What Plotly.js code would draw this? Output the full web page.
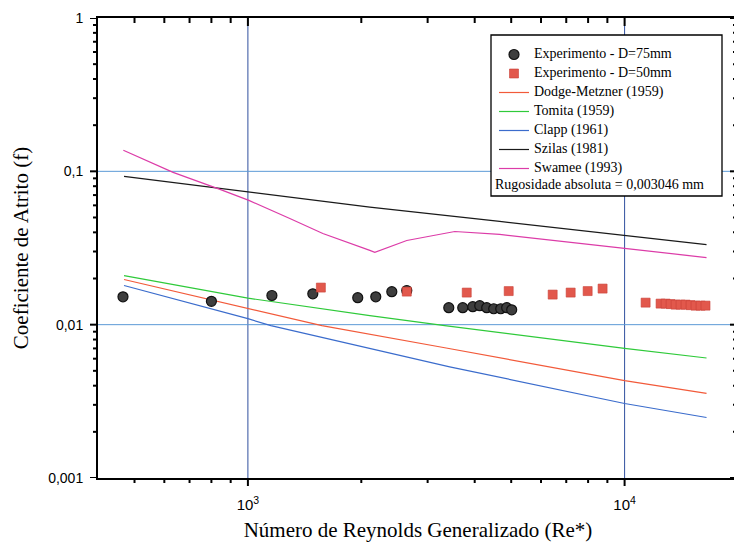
<!DOCTYPE html>
<html>
<head>
<meta charset="utf-8">
<script src="https://cdn.plot.ly/plotly-3.0.1.min.js"></script>
<style>
  html, body { margin: 0; padding: 0; background: #fff; overflow: hidden; width: 734px; height: 549px; }
  #chart { width: 742px; height: 549px; }
</style>
</head>
<body>
<div id="chart"></div>
<script>
// Experimental friction factors, pipe D = 75 mm
const re75 = [466, 800, 1158, 1487, 1957, 2185, 2410, 2641, 3414, 3718, 3953, 4125, 4305, 4493, 4690, 4864, 5015];
const f75  = [0.0152, 0.0142, 0.0155, 0.0159, 0.0150, 0.0152, 0.0164, 0.0167, 0.0129, 0.0129, 0.0131, 0.0133, 0.0129, 0.0127, 0.0127, 0.0129, 0.0125];

// Experimental friction factors, pipe D = 50 mm
const re50 = [1562, 2641, 3810, 4924, 6442, 7191, 7978, 8741, 11370, 12460, 12850, 13250, 13660, 14080, 14520, 14970, 15430, 15910, 16400];
const f50  = [0.01745, 0.01643, 0.01619, 0.01656, 0.01571, 0.01619, 0.01656, 0.01719, 0.01392, 0.01372, 0.01372, 0.01362, 0.01351, 0.01351, 0.01351, 0.01341, 0.01331, 0.01331, 0.01331];

// Correlations
const reDodge = [469, 1000, 1572, 3331, 10000, 16500];
const fDodge  = [0.0197, 0.0127, 0.00985, 0.00707, 0.00431, 0.00356];

const reTomita = [469, 1000, 2107, 3331, 10000, 16500];
const fTomita  = [0.0209, 0.0149, 0.01145, 0.00985, 0.00700, 0.00606];

const reClapp = [469, 1000, 1151, 3433, 10000, 16500];
const fClapp  = [0.0180, 0.01094, 0.00985, 0.00531, 0.00306, 0.00248];

const reSzilas = [469, 1006, 2107, 4660, 10000, 16500];
const fSzilas  = [0.0927, 0.0732, 0.0584, 0.0471, 0.0382, 0.0333];

const reSwamee = [467, 633, 843, 1006, 1292, 1581, 2107, 2172, 2641, 3541, 4660, 6724, 10000, 16500];
const fSwamee  = [0.1372, 0.0985, 0.0763, 0.0646, 0.0493, 0.0393, 0.0305, 0.0296, 0.0354, 0.0405, 0.0388, 0.0349, 0.0314, 0.0274];

// Axis ticks (labelled decades + unlabelled intermediate ticks)
const xMajor = [1000, 10000];
const xMajorText = ['10<sup>3</sup>', '10<sup>4</sup>'];
const xMinor = [500, 600, 700, 800, 900, 2000, 3000, 4000, 5000, 6000, 7000, 8000, 9000];
const yMajor = [0.001, 0.01, 0.1, 1];
const yMajorText = ['0,001', '0,01', '0,1', '1'];
const yMinor = [0.002, 0.003, 0.004, 0.005, 0.006, 0.007, 0.008, 0.009,
                0.02, 0.03, 0.04, 0.05, 0.06, 0.07, 0.08, 0.09,
                0.2, 0.3, 0.4, 0.5, 0.6, 0.7, 0.8, 0.9];

const roughnessNote = 'Rugosidade absoluta = 0,003046 mm';

const SERIF = 'Liberation Serif, Times New Roman, serif';
const SANS = 'Liberation Sans, Arial, sans-serif';

// legend entries: small base font keeps rows compact, text itself drawn at 14px
const entry = s => '<span style="font-size:14px">' + s + '</span>';

function curve(x, y, name, color, rank) {
  return { type: 'scatter', mode: 'lines', x: x, y: y, name: entry(name), legendrank: rank,
           line: { color: color, width: 1.2 }, hoverinfo: 'skip' };
}

const traces = [
  curve(reDodge, fDodge, 'Dodge-Metzner (1959)', '#f25a3a', 3),
  curve(reTomita, fTomita, 'Tomita (1959)', '#2fca3a', 4),
  curve(reClapp, fClapp, 'Clapp (1961)', '#3b6ccc', 5),
  curve(reSzilas, fSzilas, 'Szilas (1981)', '#1a1a1a', 6),
  curve(reSwamee, fSwamee, 'Swamee (1993)', '#dc3ca8', 7),
  { type: 'scatter', mode: 'markers', x: re75, y: f75, name: entry('Experimento - D=75mm'), legendrank: 1,
    marker: { symbol: 'circle', size: 10, color: '#3e3e3e', line: { color: '#111', width: 1.2 } } },
  { type: 'scatter', mode: 'markers', x: re50, y: f50, name: entry('Experimento - D=50mm'), legendrank: 2,
    marker: { symbol: 'square', size: 9, color: '#e2584c', line: { color: '#c94038', width: 0.6 } } }
];

const W = 742, H = 549;
const L = 98, R = 4, T = 18, B = 71;
const plotW = W - L - R, plotH = H - T - B;
const xRange = [Math.log10(400), Math.log10(20000)];
const yRange = [-3, 0];
// pixel position (from page left/top) -> paper coordinates
const px = v => (v - L) / plotW;
const py = v => (H - B - v) / plotH;

// grid lines only at the labelled decades
const gridShapes = []
  .concat(xMajor.map(v => ({ type: 'line', xref: 'x', yref: 'paper', x0: v, x1: v, y0: 0, y1: 1,
                             layer: 'below', line: { color: '#30509e', width: 1 } })))
  .concat(yMajor.slice(1, -1).map(v => ({ type: 'line', xref: 'paper', yref: 'y', x0: 0, x1: 1, y0: v, y1: v,
                             layer: 'below', line: { color: '#5c9ad6', width: 1 } })));

// tick marks: outside on bottom/left, inside on top/right; lengths in pixels
const tickLine = { color: '#000', width: 2 };
function xTicks(vals, len, atTop) {
  const d = len / plotH;
  return vals.map(v => ({ type: 'line', xref: 'x', yref: 'paper', x0: v, x1: v, layer: 'above', line: tickLine,
                          y0: atTop ? 1 : 0, y1: atTop ? 1 - d : -d }));
}
function yTicks(vals, len, atRight) {
  const d = len / plotW;
  return vals.map(v => ({ type: 'line', xref: 'paper', yref: 'y', y0: v, y1: v, layer: 'above', line: tickLine,
                          x0: atRight ? 1 : 0, x1: atRight ? 1 - d : -d }));
}
const tickShapes = [].concat(
  xTicks(xMajor, 8, false), xTicks(xMinor, 5, false),
  xTicks(xMajor, 8, true), xTicks(xMinor, 5, true),
  yTicks(yMajor, 8, false), yTicks(yMinor, 5, false),
  yTicks(yMajor, 8, true), yTicks(yMinor, 5, true)
);

const layout = {
  width: W, height: H,
  margin: { l: L, r: R, t: T, b: B, pad: 0 },
  paper_bgcolor: '#fff', plot_bgcolor: '#fff',
  showlegend: true,
  xaxis: {
    type: 'log', range: xRange, autorange: false, zeroline: false, fixedrange: true,
    tickmode: 'array', tickvals: xMajor, ticktext: xMajorText, ticks: '',
    showline: true, linecolor: '#000', linewidth: 2, mirror: true,
    showgrid: false, ticklabelstandoff: 12,
    tickfont: { family: SANS, size: 15, color: '#000' },
    title: { text: 'Número de Reynolds Generalizado (Re*)', font: { family: SERIF, size: 21, color: '#000' }, standoff: 10 }
  },
  yaxis: {
    type: 'log', range: yRange, autorange: false, zeroline: false, fixedrange: true,
    tickmode: 'array', tickvals: yMajor, ticktext: yMajorText, ticks: '',
    showline: true, linecolor: '#000', linewidth: 2, mirror: true,
    showgrid: false, ticklabelstandoff: 10,
    tickfont: { family: SANS, size: 14, color: '#000' },
    title: { text: 'Coeficiente de Atrito (f)', font: { family: SERIF, size: 21, color: '#000' }, standoff: 14 }
  },
  legend: {
    x: px(494), xanchor: 'left', y: py(40), yanchor: 'top',
    bgcolor: 'rgba(0,0,0,0)', borderwidth: 0,
    font: { family: SERIF, size: 10, color: '#000' },
    itemwidth: 30, tracegroupgap: 0, traceorder: 'normal'
  },
  shapes: gridShapes.concat(tickShapes, [{
    type: 'rect', xref: 'paper', yref: 'paper', layer: 'above',
    x0: px(491), x1: px(722), y0: py(196), y1: py(35),
    fillcolor: '#fff', line: { color: '#000', width: 1.3 }
  }]),
  annotations: [{
    xref: 'paper', yref: 'paper', x: px(493), y: py(184), xanchor: 'left', yanchor: 'middle',
    text: roughnessNote, showarrow: false,
    font: { family: SERIF, size: 14, color: '#000' }
  }]
};

Plotly.newPlot('chart', traces, layout, { displayModeBar: false, staticPlot: true });
</script>
</body>
</html>
